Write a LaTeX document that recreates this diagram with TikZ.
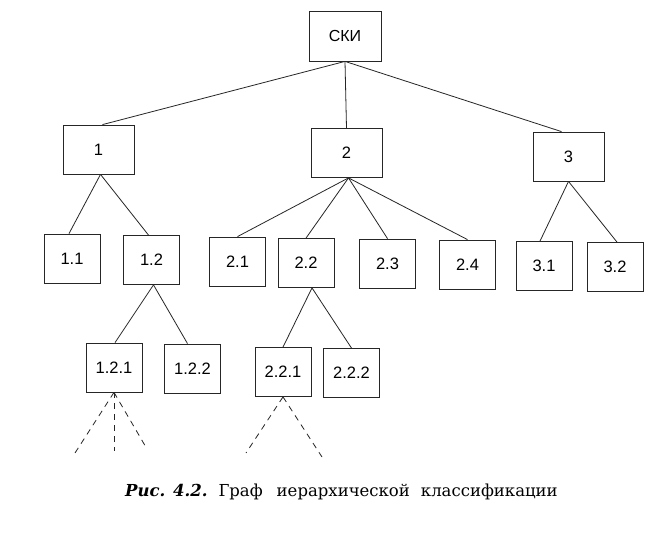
\documentclass[tikz,border=0pt]{standalone}
\usepackage{fontspec}
\setmainfont{DejaVu Serif}
\newfontfamily\boxfont{Liberation Sans}
\begin{document}
\begin{tikzpicture}[x=1pt,y=-1pt,
  tbox/.style={draw=black!85,line width=0.8pt,minimum width=56pt,minimum height=49pt,inner sep=0pt,
    font=\boxfont\fontsize{16.5}{18}\selectfont},
  wbox/.style={tbox,minimum width=71pt},
  link/.style={draw=black!85,line width=0.8pt},
  dlink/.style={link,dash pattern=on 6pt off 5pt}]
\useasboundingbox[fill=white] (0,0) rectangle (672,534);
\node[wbox,minimum width=72pt,minimum height=50pt,font=\boxfont\fontsize{16}{18}\selectfont] (r) at (345,36) {СКИ};
\node[wbox] (n1) at (98.5,149.5) {1};
\node[wbox] (n2) at (346.5,153) {2};
\node[wbox] (n3) at (568.5,156.5) {3};
\node[tbox] (n11) at (72,258.5) {1.1};
\node[tbox] (n12) at (151.5,260) {1.2};
\node[tbox] (n21) at (237.5,261.5) {2.1};
\node[tbox] (n22) at (306,263) {2.2};
\node[tbox] (n23) at (387.5,263.5) {2.3};
\node[tbox] (n24) at (467.5,264.5) {2.4};
\node[tbox] (n31) at (544,266) {3.1};
\node[tbox] (n32) at (615,267) {3.2};
\node[tbox] (n121) at (114,367.5) {1.2.1};
\node[tbox] (n122) at (192.5,368.5) {1.2.2};
\node[tbox] (n221) at (283,372) {2.2.1};
\node[tbox] (n222) at (351.5,373) {2.2.2};
\coordinate (d1) at (75,453);
\coordinate (d2) at (114,451);
\coordinate (d3) at (147,449);
\coordinate (d4) at (246,453);
\coordinate (d5) at (322,457);
\draw[link] (r.south) -- ([xshift=4pt]n1.north);
\draw[link] (r.south) -- (n2.north);
\draw[link] (r.south) -- ([xshift=-7pt]n3.north);
\draw[link] ([xshift=2pt]n1.south) -- ([xshift=-3pt]n11.north);
\draw[link] ([xshift=2pt]n1.south) -- ([xshift=-3pt]n12.north);
\foreach \c in {n21,n22,n23,n24} \draw[link] ([xshift=2pt]n2.south) -- (\c.north);
\draw[link] (n3.south) -- ([xshift=-4pt]n31.north);
\draw[link] (n3.south) -- ([xshift=2pt]n32.north);
\draw[link] ([xshift=2pt]n12.south) -- ([xshift=1pt]n121.north);
\draw[link] ([xshift=2pt]n12.south) -- ([xshift=-5pt]n122.north);
\draw[link] ([xshift=6pt]n22.south) -- (n221.north);
\draw[link] ([xshift=6pt]n22.south) -- (n222.north);
\foreach \d in {d1,d2,d3} \draw[dlink] (n121.south) -- (\d);
\foreach \d in {d4,d5} \draw[dlink] (n221.south) -- (\d);
\node[anchor=base west,inner sep=0pt,font=\fontsize{16.5}{20}\selectfont] (cap) at (125,496)
  {\textbf{\textit{Рис. 4.2.}}\hspace{11pt}Граф\hspace{14pt}иерархической\hspace{11pt}классификации};
\end{tikzpicture}
\end{document}
